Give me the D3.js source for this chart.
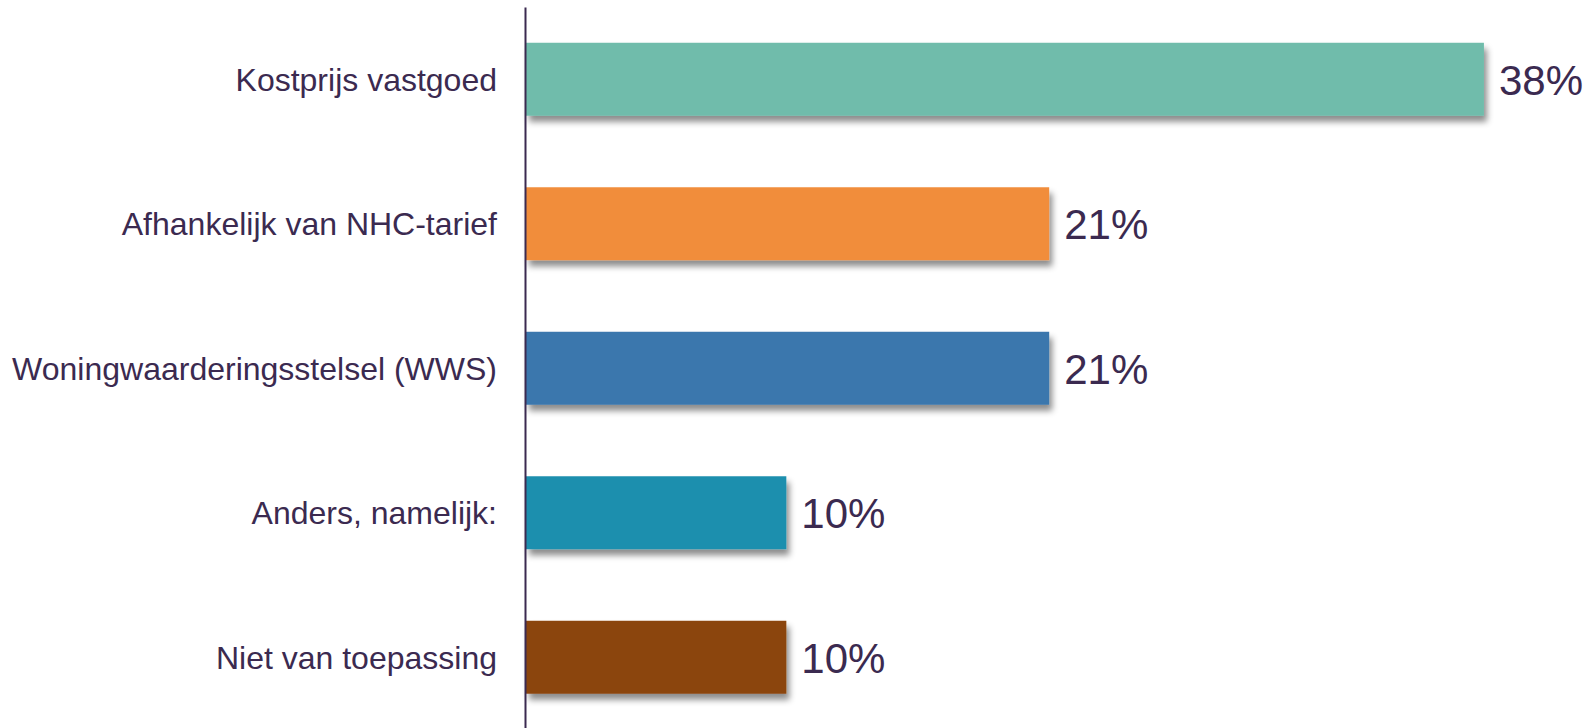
<!DOCTYPE html>
<html>
<head>
<meta charset="utf-8">
<script src="https://cdn.jsdelivr.net/npm/d3@7"></script>
<style>
  html, body { margin: 0; padding: 0; background: #ffffff; }
  svg { display: block; }
</style>
</head>
<body>
<svg id="chart" width="1592" height="728"></svg>
<script>
const categories = [
  "Kostprijs vastgoed",
  "Afhankelijk van NHC-tarief",
  "Woningwaarderingsstelsel (WWS)",
  "Anders, namelijk:",
  "Niet van toepassing"
];
const values = [37.9, 20.7, 20.7, 10.3, 10.3];
const colors = ["#6fbcab", "#f18d3b", "#3b77ad", "#1f8fae", "#8b440a"];

const textColor = "#3b2a50";
const svg = d3.select("#chart");

const defs = svg.append("defs");
const f = defs.append("filter").attr("id", "shadow")
  .attr("x", "-5%").attr("y", "-20%").attr("width", "115%").attr("height", "150%");
f.append("feDropShadow")
  .attr("dx", 3).attr("dy", 6).attr("stdDeviation", 3)
  .attr("flood-color", "#000").attr("flood-opacity", 0.45);

const x = d3.scaleLinear().domain([0, 40]).range([526, 1537]);
const y = d3.scaleBand().domain(categories).range([7, 729.5])
  .paddingInner(0.495).paddingOuter(0.2475);

svg.selectAll("rect.bar")
  .data(categories)
  .join("rect")
  .attr("class", "bar")
  .attr("x", x(0))
  .attr("y", d => y(d))
  .attr("width", (d, i) => x(values[i]) - x(0))
  .attr("height", y.bandwidth())
  .attr("fill", (d, i) => colors[i])
  .attr("filter", "url(#shadow)");

svg.selectAll("text.val")
  .data(categories)
  .join("text")
  .attr("class", "val")
  .attr("x", (d, i) => x(values[i]) + 15)
  .attr("y", d => y(d) + y.bandwidth() / 2 + 15.5)
  .attr("font-family", "'Liberation Sans', Arial, sans-serif")
  .attr("font-size", 42)
  .attr("fill", textColor)
  .text((d, i) => Math.round(values[i]) + "%");

const axis = d3.axisLeft(y).tickSize(0).tickPadding(28);
const g = svg.append("g").attr("transform", "translate(525,0)").call(axis);
g.select(".domain").attr("stroke", textColor).attr("stroke-width", 2);
g.selectAll(".tick text")
  .attr("font-family", "'Liberation Sans', Arial, sans-serif")
  .attr("font-size", 32)
  .attr("fill", textColor)
  .attr("dy", null)
  .attr("y", 11.5);
</script>
</body>
</html>
